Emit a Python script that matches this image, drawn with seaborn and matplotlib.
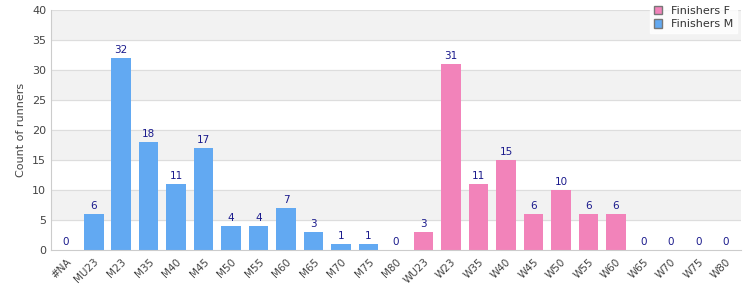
import pandas as pd
import seaborn as sns
import matplotlib.pyplot as plt
from matplotlib.patches import Patch

# data
men_cats = ['#NA', 'MU23', 'M23', 'M35', 'M40', 'M45', 'M50', 'M55', 'M60', 'M65', 'M70', 'M75', 'M80']
men_vals = [0, 6, 32, 18, 11, 17, 4, 4, 7, 3, 1, 1, 0]
women_cats = ['WU23', 'W23', 'W35', 'W40', 'W45', 'W50', 'W55', 'W60', 'W65', 'W70', 'W75', 'W80']
women_vals = [3, 31, 11, 15, 6, 10, 6, 6, 0, 0, 0, 0]

df = pd.DataFrame({
    'category': men_cats + women_cats,
    'count': men_vals + women_vals,
    'group': ['Finishers M'] * len(men_cats) + ['Finishers F'] * len(women_cats),
})

blue = '#62a9f2'
pink = '#f283ba'

sns.set_style('white')
plt.rcParams['font.family'] = ['DejaVu Sans']
fig = plt.figure(figsize=(7.5, 3), dpi=100)
ax = fig.add_axes([0.068, 0.167, 0.92, 0.8])

# alternating horizontal bands
for lo in range(5, 40, 10):
    ax.axhspan(lo, lo + 5, color='#f2f2f2', zorder=0)
for y in range(5, 41, 5):
    ax.axhline(y, color='#dddddd', linewidth=0.8, zorder=0.5)

sns.barplot(data=df, x='category', y='count', hue='group', dodge=False,
            palette={'Finishers M': blue, 'Finishers F': pink},
            width=0.72, saturation=1, linewidth=0, ax=ax, legend=False, zorder=2)

for cont in ax.containers:
    ax.bar_label(cont, fontsize=7.5, color='#1a1a8c', padding=2)

ax.set_ylim(0, 40)
ax.set_xlim(-0.55, len(df) - 0.45)
ax.set_yticks(range(0, 41, 5))
ax.set_xlabel('')
ax.set_ylabel('Count of runners', fontsize=8, color='#444444')
ax.tick_params(axis='y', labelsize=8, colors='#444444', length=0)
ax.tick_params(axis='x', labelsize=7.5, colors='#444444', length=0, pad=5)
plt.setp(ax.get_xticklabels(), rotation=45, ha='right', rotation_mode='anchor')

for s in ['top', 'right']:
    ax.spines[s].set_visible(False)
for s in ['left', 'bottom']:
    ax.spines[s].set_color('#cccccc')
    ax.spines[s].set_linewidth(0.8)

handles = [Patch(facecolor=pink, edgecolor='#777777', label='Finishers F'),
           Patch(facecolor=blue, edgecolor='#777777', label='Finishers M')]
leg = fig.legend(handles=handles, loc='upper right', bbox_to_anchor=(0.99, 1.01),
                 frameon=True, fontsize=8, handlelength=0.8, handleheight=0.8,
                 borderpad=0.3, labelspacing=0.3, fancybox=False)
leg.get_frame().set_edgecolor('white')
leg.get_frame().set_facecolor('white')
for t in leg.get_texts():
    t.set_color('#333333')

fig.savefig('out.png', dpi=100)
